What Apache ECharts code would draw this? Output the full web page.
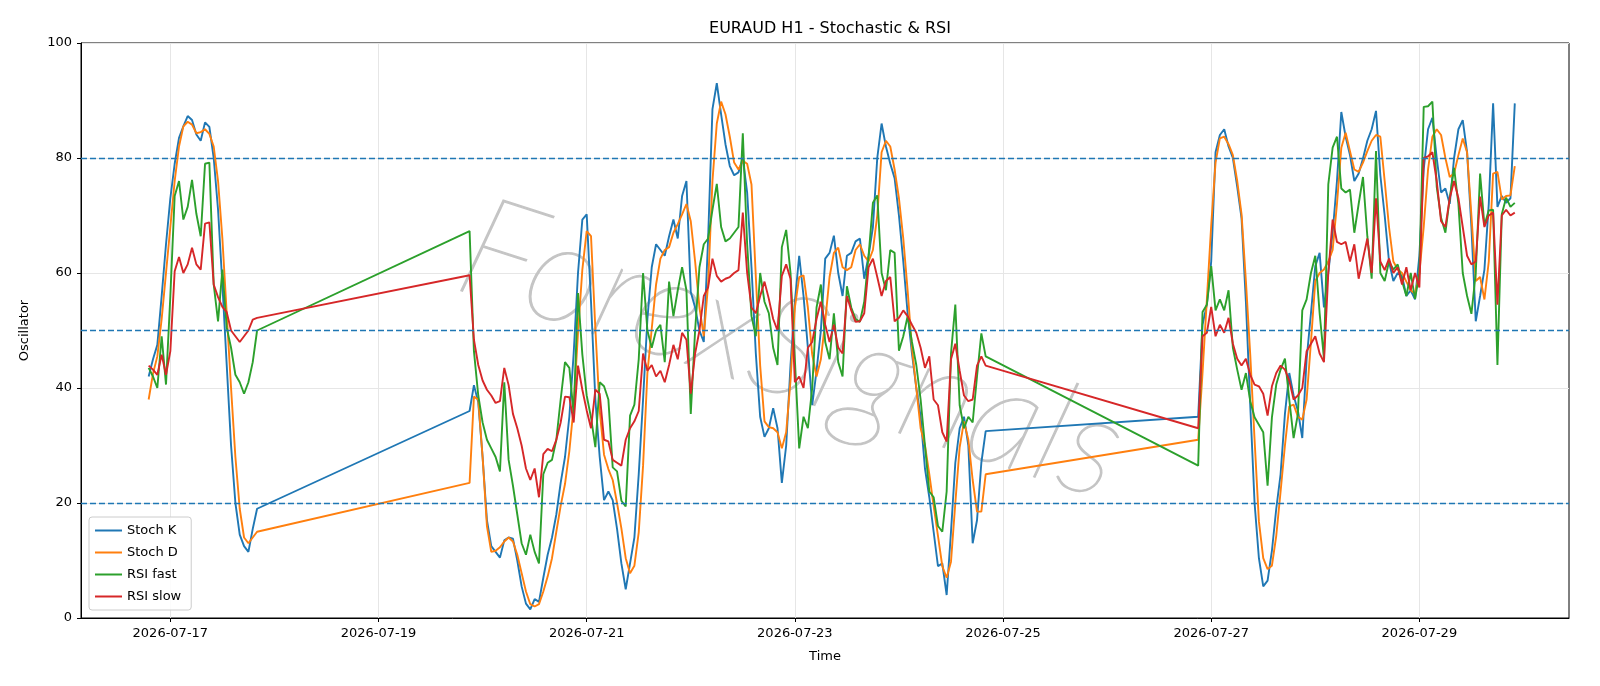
<!DOCTYPE html>
<html>
<head>
<meta charset="utf-8">
<title>EURAUD H1 - Stochastic & RSI</title>
<script src="https://cdn.jsdelivr.net/npm/echarts@6/dist/echarts.min.js"></script>
<style>
  html, body { margin: 0; padding: 0; background: #fff; }
  #chart { width: 1600px; height: 686px; }
</style>
</head>
<body>
<div id="chart"></div>
<script>
const HOUR = 3600 * 1000;

// hourly bars in three sessions, weekend gaps in between
const sessionStarts = ['2026-07-16T19:00:00Z', '2026-07-19T21:00:00Z', '2026-07-26T21:00:00Z'];
const sessionLengths = [26, 120, 74];

const stochK = [
  42, 45, 47.5, 56, 65, 73, 79, 83.5, 85.5, 87.3, 86.6, 84.1, 83, 86.2, 85.4, 80, 71, 58, 44, 30, 20, 14.5, 12.5, 11.5, 15.5, 19,
  36, 40.5, 37.5, 28, 17, 12.5, 11.5, 10.5, 13.5, 14, 13.8, 10, 5.5, 2.5, 1.5, 3.3, 2.8, 7, 11, 14,
  18, 23.5, 28, 35, 46, 60, 69.3, 70.2, 55, 38, 28, 20.5, 22, 20.5, 15.5, 9.5, 5, 9.5, 14, 25,
  38, 52, 61, 65, 64, 63, 66.4, 69.3, 66, 73.4, 76, 56.7, 54, 50, 48, 66, 88.5, 93, 87.6, 82.4,
  78.6, 77, 77.5, 80, 74, 61, 46, 35, 31.5, 33, 36.5, 33, 23.5, 30, 44, 55, 63, 56, 47, 37,
  43, 50, 62.5, 63.5, 66.5, 60, 56, 63, 63.5, 65.5, 66, 59, 63, 68, 80, 86, 82, 79, 76.5, 70,
  62, 53, 46, 40, 35, 26, 21, 15, 9, 9.5, 4, 15, 27, 33, 35, 30, 13, 17, 27, 32.5,
  35, 51, 54.5, 62, 81, 84, 85, 82, 80, 75, 69.5, 55, 37, 20, 10.4, 5.5, 6.5, 11.7, 19, 25,
  35.5, 42.6, 38.7, 36, 31.3, 45, 53, 61.2, 63.5, 54, 60, 67, 76, 88, 83.7, 80.5, 76, 77.3, 79.9, 83,
  85, 88.2, 77, 70, 62, 58.6, 60, 59.5, 56, 57, 55.4, 63, 78, 85, 87, 80, 74, 74.7, 72, 80,
  85, 86.6, 81, 68, 51.6, 56, 60.6, 72, 89.5, 71.5, 73.4, 72.2, 73, 89.5
];

const stochD = [
  38, 42.5, 45.5, 52, 60, 68, 76, 82, 85.5, 86.3, 85.8, 84.3, 84.5, 85, 84.2, 82, 76, 66, 53, 40, 28, 19, 14, 13, 14, 15,
  23.5, 38.5, 38, 28, 16, 11.5, 11.7, 12.3, 13.3, 14, 13.3, 11, 7.8, 4.6, 2.4, 2, 2.4, 4.6, 7.2, 10.4,
  15, 19.5, 23.3, 29, 36.8, 49.6, 60.6, 67.3, 66.4, 50.3, 36.1, 28.4, 25.9, 24, 20, 15.6, 10.4, 7.8, 9.1, 14.9,
  26.5, 42.6, 50.3, 58, 62.5, 64, 64.5, 67, 68.5, 70.2, 72, 69, 62, 54, 49, 58, 76, 86, 89.8, 87.6,
  83.7, 79.2, 78, 79.5, 79, 75.4, 59.3, 43.9, 34.2, 33.2, 33, 32.3, 29.5, 32.3, 41.3, 54, 59.3, 59.6, 54, 45.8,
  42, 45, 51.6, 59.3, 63.5, 64.4, 61, 60.5, 61, 64, 65, 63, 62, 64, 70, 81, 83, 82, 78, 73,
  66, 57, 47, 40, 33, 30, 25, 19.5, 14.3, 9, 7, 9.8, 20, 29.7, 34.2, 31, 24, 18.5, 18.5, 25,
  31, 42.6, 55.4, 68.3, 79.2, 83.4, 83.7, 82.4, 80.5, 76, 70.2, 58.6, 45.8, 31, 16.8, 10.4, 8.5, 9.1, 14.3, 22,
  30, 36.8, 37.1, 35, 34.5, 38, 48, 58.6, 60, 60.6, 62, 64, 72, 81.8, 84.4, 81.2, 78, 77.6, 79.2, 81.2,
  83, 84, 83.7, 76, 68, 62, 60.6, 60, 58.5, 57, 56.4, 60, 68, 78, 83.7, 85, 84, 80, 76.7, 77.3,
  80.5, 83.4, 81, 70, 58.6, 59.3, 55.4, 62, 77.3, 77.6, 72.8, 73.4, 73.5, 78.6
];

const rsiFast = [
  43.5, 42, 40, 49, 40.6, 56, 73.4, 76, 69.3, 71.5, 76.2, 70.3, 66.4, 79, 79.2, 58, 51.6, 60.6, 50.5, 47, 42.3, 41, 39, 41, 44.5, 50,
  67.3, 46.4, 38.7, 34, 31, 29.5, 28, 25.5, 41, 27.5, 23, 18, 13, 11, 14.5, 11.5, 9.5, 25, 27, 27.5,
  31, 38, 44.5, 43.5, 35.5, 56.5, 45.8, 38.7, 34.9, 29.7, 41, 40.3, 38, 26.2, 25.5, 20.4, 19.4, 35.2, 37.1, 45,
  60, 50, 47, 50, 51, 44.5, 58.5, 52.5, 57, 61, 57, 35.5, 50, 61, 65, 66, 71, 75.5, 68, 65.5,
  66, 67, 68, 84.3, 65, 52.5, 49, 60, 55, 53, 47, 44, 64.5, 67.5, 60, 45, 29.5, 35, 33, 40,
  54, 58, 48, 45, 53, 44.5, 42, 57.7, 54, 52, 51.5, 55, 63, 72.2, 73.5, 60, 57, 64, 63.5, 46.5,
  49, 52.5, 48, 44, 38, 30, 22, 21, 16, 15, 22, 46, 54.5, 37, 33, 35, 34, 42, 49.5, 45.5,
  26.5, 53.2, 54.5, 61.2, 53.5, 55.4, 53.5, 57, 47, 43.2, 39.7, 42.6, 37.7, 34.9, 33.6, 32.3, 23, 34.9, 40.6, 43.2,
  45.1, 38, 31.3, 35.5, 53.5, 55.4, 60, 63, 53, 45.1, 75.4, 81.8, 83.7, 74.7, 74, 74.5, 67, 72, 76.7, 66.4,
  59, 81.2, 60, 58.6, 62, 60.6, 61.5, 58.6, 56, 60, 55.5, 60, 88.9, 89, 89.8, 75, 69.6, 67, 73, 78.3,
  72, 60, 56, 52.9, 60, 77.3, 68.3, 70.9, 71, 44, 70.2, 73.1, 71.5, 72.2
];

const rsiSlow = [
  43.9, 43.2, 42.3, 45.8, 42.3, 46.4, 60.3, 62.8, 60, 61.5, 64.4, 61.5, 60.6, 68.6, 68.8, 58, 55.8, 54.1, 53.2, 50, 49, 48, 49, 50, 51.9, 52.2,
  59.6, 48.4, 44, 41.3, 39.7, 38.7, 37.4, 37.7, 43.5, 40.5, 35.5, 33, 30, 26, 24, 26, 21, 28.5, 29.4, 29,
  31, 34, 38.5, 38.4, 34, 43.9, 39.7, 36.1, 33, 39.7, 39, 31, 30.7, 27.5, 27, 26.5, 31, 33, 34.2, 36,
  46, 43, 44, 42, 43, 41, 44, 47.5, 45, 49.6, 48.4, 39, 46, 50, 56, 57.5, 62.5, 59.5, 58.5, 59,
  59.3, 60, 60.5, 70.5, 60, 54, 53, 56, 58.5, 55.5, 52, 50, 59.5, 61.5, 59, 41, 42, 40, 47, 48,
  52, 55, 51, 48, 51, 47, 46, 56, 53.5, 51.5, 51.6, 53, 61, 62.5, 59.3, 56, 58.6, 59.3, 51.6, 52.2,
  53.5, 52.5, 51, 49.6, 47, 43.5, 45.5, 38, 37, 32.3, 30.7, 45, 47.7, 43, 38.7, 37.7, 38, 43.9, 45.5, 43.9,
  33, 49, 49.6, 54.1, 49, 51, 49.6, 52.2, 47.7, 45.1, 43.9, 45.1, 42.3, 40.6, 40.3, 39, 35.2, 40.3, 42.6, 43.9,
  43.2, 41.3, 38, 38.7, 40, 46.4, 47.7, 49, 46, 44.5, 60, 69.3, 65.4, 65, 65.4, 62, 65, 59, 62.5, 66,
  60, 73, 62, 60.5, 62.5, 60, 61, 58, 61, 57, 60, 57.5, 80, 80.3, 81, 76, 69, 68, 73, 76,
  73, 68, 63, 61.5, 62, 73.3, 68, 70, 70.5, 54.5, 70, 71, 70, 70.5
];

const seriesNames = ['Stoch K', 'Stoch D', 'RSI fast', 'RSI slow'];
const seriesColors = ['#1f77b4', '#ff7f0e', '#2ca02c', '#d62728'];
const levelLines = [20, 50, 80];
const xTickDates = ['2026-07-17', '2026-07-19', '2026-07-21', '2026-07-23', '2026-07-25', '2026-07-27', '2026-07-29'];
const xRange = ['2026-07-16T03:24:00Z', '2026-07-30T10:30:00Z'];

// timestamps for every hourly bar
const times = [];
sessionStarts.forEach((s, i) => {
  const t0 = Date.parse(s);
  for (let k = 0; k < sessionLengths[i]; k++) times.push(t0 + k * HOUR);
});

const xTicks = xTickDates.map((d) => Date.parse(d + 'T00:00:00Z'));

const fmtDate = (v) => {
  const d = new Date(v);
  const p = (n) => String(n).padStart(2, '0');
  return d.getUTCFullYear() + '-' + p(d.getUTCMonth() + 1) + '-' + p(d.getUTCDate());
};

const FONT = 'DejaVu Sans';
const chart = echarts.init(document.getElementById('chart'));

const allValues = [stochK, stochD, rsiFast, rsiSlow];
const series = allValues.map((vals, i) => ({
  name: seriesNames[i],
  type: 'line',
  data: vals.map((v, k) => [times[k], v]),
  showSymbol: false,
  symbol: 'none',
  lineStyle: { color: seriesColors[i], width: 1.9 },
  itemStyle: { color: seriesColors[i] },
  animation: false,
  z: 3,
}));

// dashed reference levels
series[0].markLine = {
  silent: true,
  symbol: 'none',
  label: { show: false },
  lineStyle: { color: '#1f77b4', type: [6, 3], width: 1.4 },
  data: levelLines.map((y) => ({ yAxis: y })),
  animation: false,
};

const option = {
  backgroundColor: '#ffffff',
  textStyle: { fontFamily: FONT },
  title: {
    text: 'EURAUD H1 - Stochastic & RSI',
    left: 825,
    textAlign: 'center',
    top: 16,
    textStyle: { fontFamily: FONT, fontSize: 16, fontWeight: 'normal', color: '#000' },
  },
  grid: {
    left: 81,
    right: 31,
    top: 43,
    bottom: 68,
    show: true,
    borderColor: '#000',
    borderWidth: 1,
  },
  legend: {
    orient: 'vertical',
    left: 89,
    top: 517,
    icon: 'rect',
    itemWidth: 27,
    itemHeight: 2,
    itemGap: 9,
    padding: [7, 10, 7, 6],
    backgroundColor: 'rgba(255,255,255,0.85)',
    borderColor: '#cccccc',
    borderWidth: 1,
    borderRadius: 3,
    textStyle: { fontFamily: FONT, fontSize: 13, color: '#000' },
    data: seriesNames,
  },
  xAxis: {
    type: 'value',
    min: Date.parse(xRange[0]),
    max: Date.parse(xRange[1]),
    name: 'Time',
    nameLocation: 'middle',
    nameGap: 32,
    nameTextStyle: { fontFamily: FONT, fontSize: 13, color: '#000' },
    axisLine: { show: true, lineStyle: { color: '#000', width: 1 } },
    axisTick: { show: true, length: 4, lineStyle: { color: '#000' }, customValues: xTicks },
    axisLabel: {
      customValues: xTicks,
      formatter: fmtDate,
      fontFamily: FONT,
      fontSize: 13,
      color: '#000',
      margin: 9,
    },
    splitLine: { show: true, lineStyle: { color: '#e6e6e6', width: 1 } },
  },
  yAxis: {
    type: 'value',
    min: 0,
    max: 100,
    interval: 20,
    name: 'Oscillator',
    nameLocation: 'middle',
    nameRotate: 90,
    nameGap: 50,
    nameTextStyle: { fontFamily: FONT, fontSize: 13, color: '#000' },
    axisLine: { show: true, lineStyle: { color: '#000', width: 1 } },
    axisTick: { show: true, length: 4, lineStyle: { color: '#000' } },
    axisLabel: { fontFamily: FONT, fontSize: 13, color: '#000', margin: 9 },
    splitLine: { show: true, lineStyle: { color: '#e6e6e6', width: 1 } },
  },
  graphic: [
    {
      // watermark
      type: 'text',
      x: 792,
      y: 350,
      rotation: -18 * Math.PI / 180,
      z: 1,
      silent: true,
      style: {
        text: 'ForexSignals',
        font: 'italic 100 142px Lato',
        fill: 'rgba(195,195,195,0.95)',
        stroke: 'rgba(195,195,195,0.95)',
        lineWidth: 1.2,
        shadowColor: 'rgba(90,90,90,0.6)',
        shadowOffsetX: 3,
        shadowOffsetY: 4,
        shadowBlur: 2,
        align: 'center',
        verticalAlign: 'middle',
      },
    },
  ],
  series,
};

chart.setOption(option);
</script>
</body>
</html>
